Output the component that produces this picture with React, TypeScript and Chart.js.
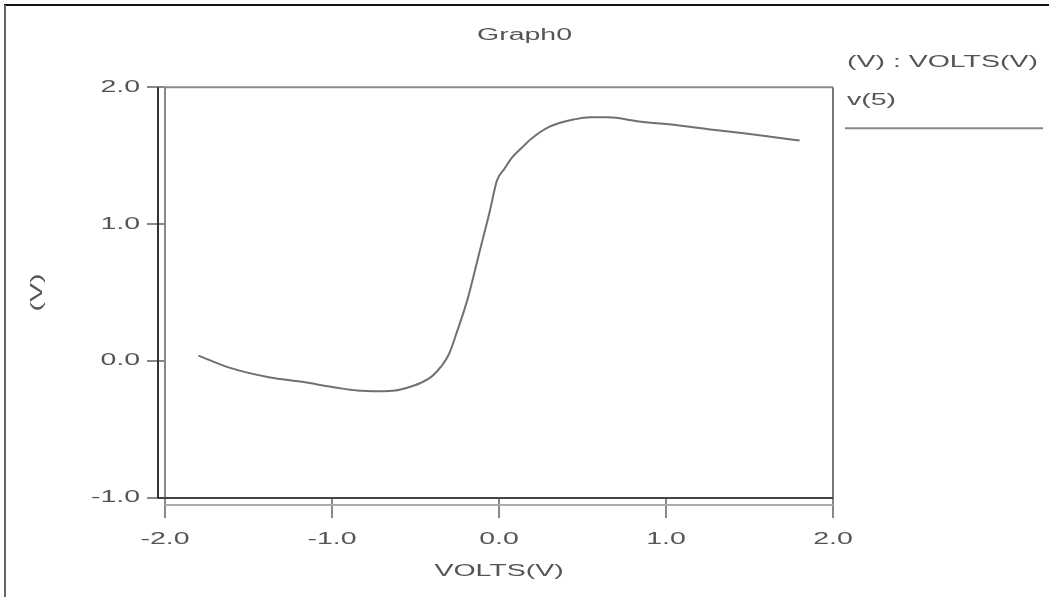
import { useEffect, useRef } from 'react';
import { Chart, registerables } from 'chart.js';

Chart.register(...registerables);

// ---- data ----
const sweepVolts = [
  -1.8, -1.61, -1.37, -1.19, -0.97, -0.85, -0.72, -0.62, -0.55, -0.47, -0.4,
  -0.35, -0.3, -0.25, -0.19, -0.114, -0.054, -0.012, 0.03, 0.08, 0.13, 0.19,
  0.3, 0.45, 0.55, 0.65, 0.84, 1.08, 1.28, 1.49, 1.65, 1.8,
];
const outputVolts = [
  0.04, -0.05, -0.12, -0.15, -0.195, -0.215, -0.22, -0.215, -0.195, -0.16, -0.11,
  -0.045, 0.05, 0.22, 0.445, 0.81, 1.1, 1.32, 1.4, 1.49, 1.55, 1.62,
  1.71, 1.765, 1.78, 1.78, 1.75, 1.72, 1.69, 1.66, 1.635, 1.61,
];
const xTickValues = [-2, -1, 0, 1, 2];
const xTickLabels = ['-2.0', '-1.0', '0.0', '1.0', '2.0'];
const yTickValues = [-1, 0, 1, 2];
const yTickLabels = ['-1.0', '0.0', '1.0', '2.0'];
const seriesLabel = 'v(5)';
const legendTitle = '(V) : VOLTS(V)';
const chartTitle = 'Graph0';
const xAxisTitle = 'VOLTS(V)';
const yAxisTitle = '(V)';

// ---- style ----
const FONT = "'Liberation Sans', Arial, sans-serif";
const TEXT = '#555';
const TEXT_STRETCH = 1.78;
const W = 1049;
const H = 597;

function stretchText(ctx: any) {
  if (ctx.__stretched) return;
  ctx.__stretched = true;
  const fill = ctx.fillText.bind(ctx);
  const measure = ctx.measureText.bind(ctx);
  ctx.fillText = (t: string, x: number, y: number, mw?: number) => {
    ctx.save();
    ctx.translate(x, y);
    ctx.scale(TEXT_STRETCH, 1);
    if (mw === undefined) fill(t, 0, 0);
    else fill(t, 0, 0, mw / TEXT_STRETCH);
    ctx.restore();
  };
  ctx.measureText = (t: string) => {
    const m = measure(t);
    return {
      width: m.width * TEXT_STRETCH,
      actualBoundingBoxAscent: m.actualBoundingBoxAscent,
      actualBoundingBoxDescent: m.actualBoundingBoxDescent,
      actualBoundingBoxLeft: m.actualBoundingBoxLeft * TEXT_STRETCH,
      actualBoundingBoxRight: m.actualBoundingBoxRight * TEXT_STRETCH,
      fontBoundingBoxAscent: m.fontBoundingBoxAscent,
      fontBoundingBoxDescent: m.fontBoundingBoxDescent,
    };
  };
}

const framePlugin = {
  id: 'frame',
  beforeDraw(chart: any) {
    const ctx = chart.ctx;
    ctx.save();
    ctx.fillStyle = '#fff';
    ctx.fillRect(0, 0, W, H);
    // outer window frame
    ctx.lineCap = 'butt';
    ctx.strokeStyle = '#111';
    ctx.lineWidth = 2;
    ctx.beginPath();
    ctx.moveTo(4, 5);
    ctx.lineTo(W, 5);
    ctx.stroke();
    ctx.strokeStyle = '#666';
    ctx.beginPath();
    ctx.moveTo(5, 5);
    ctx.lineTo(5, H);
    ctx.stroke();
    ctx.restore();
  },
  afterDatasetsDraw(chart: any) {
    const ctx = chart.ctx;
    const { left, right, top, bottom } = chart.chartArea;
    ctx.save();
    ctx.lineWidth = 2;
    // plot frame
    ctx.strokeStyle = '#8a8a8a';
    ctx.beginPath();
    ctx.moveTo(left, bottom);
    ctx.lineTo(left, top);
    ctx.lineTo(right, top);
    ctx.stroke();
    ctx.strokeStyle = '#777';
    ctx.beginPath();
    ctx.moveTo(right, top);
    ctx.lineTo(right, bottom);
    ctx.stroke();
    ctx.strokeStyle = '#444';
    ctx.beginPath();
    ctx.moveTo(left - 8, bottom);
    ctx.lineTo(right, bottom);
    ctx.stroke();
    // offset axis lines
    ctx.strokeStyle = '#333';
    ctx.beginPath();
    ctx.moveTo(left - 7, top);
    ctx.lineTo(left - 7, bottom);
    ctx.stroke();
    ctx.strokeStyle = '#aaa';
    ctx.beginPath();
    ctx.moveTo(left, bottom + 7);
    ctx.lineTo(right, bottom + 7);
    ctx.stroke();

    // legend
    const ds = chart.data.datasets[0];
    ctx.font = `16px ${FONT}`;
    ctx.fillStyle = TEXT;
    ctx.textAlign = 'left';
    ctx.textBaseline = 'middle';
    ctx.fillText(legendTitle, right + 14, top - 25);
    ctx.fillText(ds.label, right + 14, top + 13);
    ctx.strokeStyle = '#888';
    ctx.beginPath();
    ctx.moveTo(right + 12, top + 41);
    ctx.lineTo(right + 210, top + 41);
    ctx.stroke();
    ctx.restore();
  },
};

export default function App() {
  const ref = useRef<HTMLCanvasElement>(null);

  useEffect(() => {
    const canvas = ref.current!;
    const ctx = canvas.getContext('2d')!;
    stretchText(ctx);
    const font = { family: FONT, size: 16, weight: 'normal' as const };
    const chart = new Chart(ctx, {
      type: 'line',
      data: {
        datasets: [
          {
            label: seriesLabel,
            data: sweepVolts.map((x, i) => ({ x, y: outputVolts[i] })),
            borderColor: '#707070',
            borderWidth: 2,
            pointRadius: 0,
            cubicInterpolationMode: 'monotone',
            fill: false,
            yAxisID: 'y',
          },
        ],
      },
      options: {
        responsive: false,
        animation: false,
        devicePixelRatio: 1,
        layout: { padding: { left: 0, right: 0, top: 0, bottom: 16 } },
        plugins: {
          legend: { display: false },
          tooltip: { enabled: false },
          title: {
            display: true,
            text: chartTitle,
            color: TEXT,
            font,
            padding: { top: 26, bottom: 42 },
          },
        },
        scales: {
          x: {
            type: 'linear',
            min: -2,
            max: 2,
            afterBuildTicks: (axis: any) => {
              axis.ticks = xTickValues.map((v) => ({ value: v }));
            },
            afterFit: (scale: any) => {
              scale.height = 83;
            },
            ticks: {
              autoSkip: false,
              maxRotation: 0,
              color: TEXT,
              font,
              padding: 12,
              callback: (v: any) => xTickLabels[xTickValues.indexOf(Number(v))] ?? '',
            },
            grid: {
              drawOnChartArea: false,
              drawTicks: true,
              tickLength: 20,
              color: '#888',
              lineWidth: 2,
            },
            border: { display: false },
            title: {
              display: true,
              text: xAxisTitle,
              color: TEXT,
              font,
              padding: { top: 4, bottom: 0 },
            },
          },
          y: {
            type: 'linear',
            position: 'left',
            min: -1,
            max: 2,
            afterBuildTicks: (axis: any) => {
              axis.ticks = yTickValues.map((v) => ({ value: v }));
            },
            afterFit: (scale: any) => {
              scale.width = 165;
            },
            ticks: {
              autoSkip: false,
              color: TEXT,
              font,
              padding: 7,
              callback: (v: any) => yTickLabels[yTickValues.indexOf(Number(v))] ?? '',
            },
            grid: {
              drawOnChartArea: false,
              drawTicks: true,
              tickLength: 18,
              color: '#888',
              lineWidth: 2,
            },
            border: { display: false },
            title: {
              display: true,
              text: yAxisTitle,
              color: TEXT,
              font,
              padding: { top: 28, bottom: 0 },
            },
          },
          // empty right-hand band that holds the legend area
          legendBand: {
            type: 'linear',
            position: 'right',
            display: true,
            afterFit: (scale: any) => {
              scale.width = 216;
            },
            ticks: { display: false },
            grid: { display: false, drawTicks: false },
            border: { display: false },
            title: { display: false },
          },
        },
      },
      plugins: [framePlugin],
    } as any);
    return () => chart.destroy();
  }, []);

  return (
    <div
      style={{
        position: 'fixed',
        left: 0,
        top: 0,
        width: W,
        height: H,
        background: '#fff',
      }}
    >
      <canvas ref={ref} width={W} height={H} style={{ display: 'block', width: W, height: H }} />
    </div>
  );
}
